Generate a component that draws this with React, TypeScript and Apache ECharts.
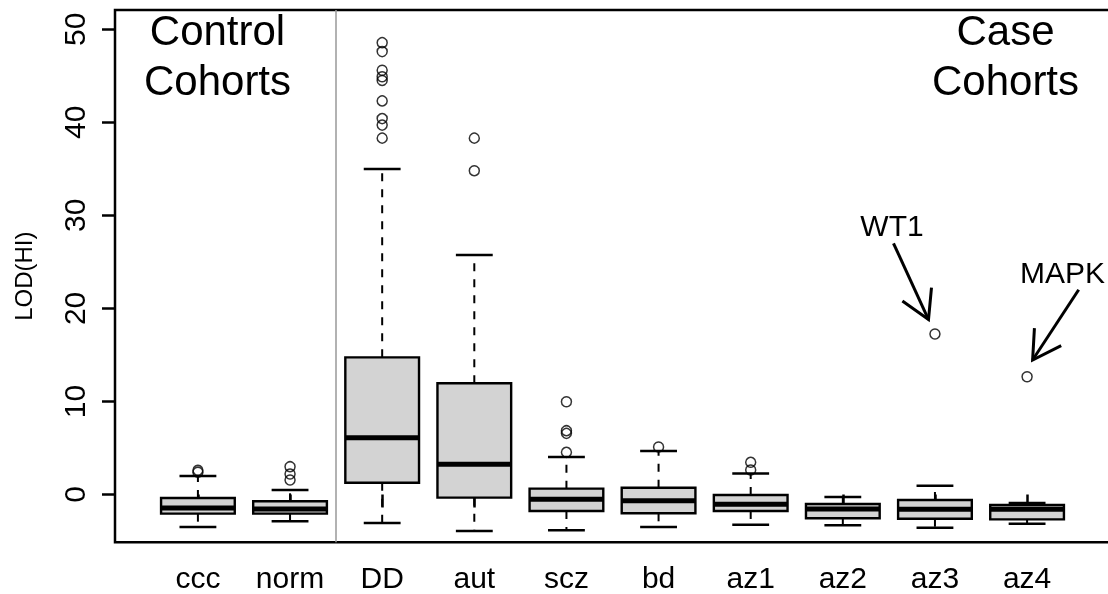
import React, { useEffect, useRef } from 'react';
import * as echarts from 'echarts';

// Cohorts (x categories)
const categories = ['ccc', 'norm', 'DD', 'aut', 'scz', 'bd', 'az1', 'az2', 'az3', 'az4'];
// Box-plot statistics
const whiskerLow = [-3.5, -2.88, -3.06, -3.92, -3.85, -3.49, -3.24, -3.31, -3.56, -3.14];
const q1 = [-2.06, -2.06, 1.27, -0.34, -1.77, -2.02, -1.77, -2.56, -2.6, -2.67];
const median = [-1.45, -1.56, 6.1, 3.24, -0.52, -0.66, -1.06, -1.56, -1.59, -1.59];
const q3 = [-0.38, -0.73, 14.74, 11.95, 0.63, 0.73, -0.05, -1.02, -0.59, -1.13];
const whiskerHigh = [2.0, 0.48, 34.98, 25.74, 4.03, 4.67, 2.27, -0.27, 0.95, -0.91];
const outliers: number[][] = [
  [2.4, 2.6],
  [1.56, 2.2, 2.99],
  [38.3, 39.7, 40.4, 42.3, 44.5, 44.9, 45.6, 47.6, 48.56],
  [34.8, 38.3],
  [4.53, 6.57, 6.86, 9.97],
  [5.1],
  [2.63, 3.46],
  [],
  [17.25],
  [12.66],
];
const yTicks = [0, 10, 20, 30, 40, 50];
const separatorAt = 2.5;
// Annotation arrows (data units): from -> to
const arrowFrom = [[8.55, 27.0], [10.56, 22.0]];
const arrowTo = [[8.93, 18.8], [10.06, 14.45]];
const annotationLabels = ['WT1', 'MAPK'];
const groupLabels = ['Control\nCohorts', 'Case\nCohorts'];

const FONT = '"Liberation Sans", Arial, Helvetica, sans-serif';

export default function App() {
  const ref = useRef<HTMLDivElement>(null);
  useEffect(() => {
    const chart = echarts.init(ref.current!, null, { renderer: 'svg' });
    const boxData = categories.map((_, i) => [i + 1, whiskerLow[i], q1[i], median[i], q3[i], whiskerHigh[i]]);
    const outlierData: number[][] = [];
    outliers.forEach((arr, i) => arr.forEach((v) => outlierData.push([i + 1, v])));
    const arrowData = arrowFrom.map((f, i) => [f[0], f[1], arrowTo[i][0], arrowTo[i][1]]);
    const catTicks = categories.map((_, i) => i + 1);

    chart.setOption({
      animation: false,
      grid: {
        left: 115, right: 2, top: 10, bottom: 51.7,
        show: true, borderColor: '#000', borderWidth: 2.5, backgroundColor: 'transparent',
      },
      xAxis: {
        type: 'value', min: 0.1, max: 10.9,
        axisLine: { show: false },
        splitLine: { show: false },
        axisTick: { show: true, length: 13, lineStyle: { color: '#000', width: 2.5 }, customValues: catTicks },
        axisLabel: {
          customValues: catTicks,
          formatter: (v: number) => categories[Math.round(v) - 1] ?? '',
          fontSize: 30, color: '#000', fontFamily: FONT, margin: 20,
        },
      },
      yAxis: {
        type: 'value', min: -5.137, max: 52.07,
        name: 'LOD(HI)', nameLocation: 'middle', nameGap: 80,
        nameTextStyle: { fontSize: 24, color: '#000', fontFamily: FONT },
        axisLine: { show: false },
        splitLine: { show: false },
        axisTick: { show: true, length: 13, lineStyle: { color: '#000', width: 2.5 }, customValues: yTicks },
        axisLabel: {
          customValues: yTicks, rotate: 90,
          fontSize: 30, color: '#000', fontFamily: FONT, margin: 26,
        },
      },
      graphic: [
        {
          type: 'text', x: 217.5, y: 5,
          style: { text: groupLabels[0], fontSize: 42, fontFamily: FONT, fill: '#000', align: 'center', verticalAlign: 'top', lineHeight: 50 },
        },
        {
          type: 'text', x: 1005.5, y: 5,
          style: { text: groupLabels[1], fontSize: 42, fontFamily: FONT, fill: '#000', align: 'center', verticalAlign: 'top', lineHeight: 50 },
        },
        {
          type: 'text', x: 892, y: 225,
          style: { text: annotationLabels[0], fontSize: 30, fontFamily: FONT, fill: '#000', align: 'center', verticalAlign: 'middle' },
        },
        {
          type: 'text', x: 1062.5, y: 272.5,
          style: { text: annotationLabels[1], fontSize: 30, fontFamily: FONT, fill: '#000', align: 'center', verticalAlign: 'middle' },
        },
      ],
      series: [
        {
          type: 'custom',
          z: 2,
          data: boxData,
          encode: { x: 0, y: [1, 2, 3, 4, 5] },
          renderItem: (params: any, api: any) => {
            const x = api.value(0);
            const lo = api.coord([x, api.value(1)]);
            const b1 = api.coord([x, api.value(2)]);
            const md = api.coord([x, api.value(3)]);
            const b3 = api.coord([x, api.value(4)]);
            const hi = api.coord([x, api.value(5)]);
            const half = api.size([0.8, 0])[0] / 2;
            const capHalf = api.size([0.4, 0])[0] / 2;
            const cx = lo[0];
            const dashed = { stroke: '#000', lineWidth: 2, lineDash: [8, 8], fill: null };
            const solid = { stroke: '#000', lineWidth: 2.5, fill: null };
            return {
              type: 'group',
              children: [
                { type: 'line', shape: { x1: cx, y1: b1[1], x2: cx, y2: lo[1] }, style: dashed },
                { type: 'line', shape: { x1: cx, y1: b3[1], x2: cx, y2: hi[1] }, style: dashed },
                { type: 'line', shape: { x1: cx - capHalf, y1: lo[1], x2: cx + capHalf, y2: lo[1] }, style: solid },
                { type: 'line', shape: { x1: cx - capHalf, y1: hi[1], x2: cx + capHalf, y2: hi[1] }, style: solid },
                {
                  type: 'rect',
                  shape: { x: cx - half, y: b3[1], width: half * 2, height: b1[1] - b3[1] },
                  style: { fill: '#d3d3d3', stroke: '#000', lineWidth: 2.4 },
                },
                { type: 'line', shape: { x1: cx - half, y1: md[1], x2: cx + half, y2: md[1] }, style: { stroke: '#000', lineWidth: 5 } },
              ],
            };
          },
        },
        {
          type: 'scatter',
          z: 3,
          data: outlierData,
          symbol: 'circle',
          symbolSize: 10,
          itemStyle: { color: 'rgba(0,0,0,0)', borderColor: '#000', borderWidth: 1.5 },
          markLine: {
            silent: true,
            symbol: ['none', 'none'],
            label: { show: false },
            lineStyle: { color: '#999', width: 1.5, type: 'solid' },
            data: [{ xAxis: separatorAt }],
          },
        },
        {
          type: 'custom',
          z: 4,
          data: arrowData,
          encode: { x: [0, 2], y: [1, 3] },
          renderItem: (params: any, api: any) => {
            const p0 = api.coord([api.value(0), api.value(1)]);
            const p1 = api.coord([api.value(2), api.value(3)]);
            const ang = Math.atan2(p1[1] - p0[1], p1[0] - p0[0]);
            const L = 32;
            const a1 = ang + Math.PI - Math.PI / 6;
            const a2 = ang + Math.PI + Math.PI / 6;
            const h1 = [p1[0] + L * Math.cos(a1), p1[1] + L * Math.sin(a1)];
            const h2 = [p1[0] + L * Math.cos(a2), p1[1] + L * Math.sin(a2)];
            const st = { stroke: '#000', lineWidth: 3, fill: null };
            return {
              type: 'group',
              children: [
                { type: 'line', shape: { x1: p0[0], y1: p0[1], x2: p1[0], y2: p1[1] }, style: st },
                { type: 'polyline', shape: { points: [h1, p1, h2] }, style: st },
              ],
            };
          },
        },
      ],
    });
    return () => chart.dispose();
  }, []);
  return <div ref={ref} style={{ position: 'fixed', left: 0, top: 0, width: 1112, height: 594 }} />;
}
